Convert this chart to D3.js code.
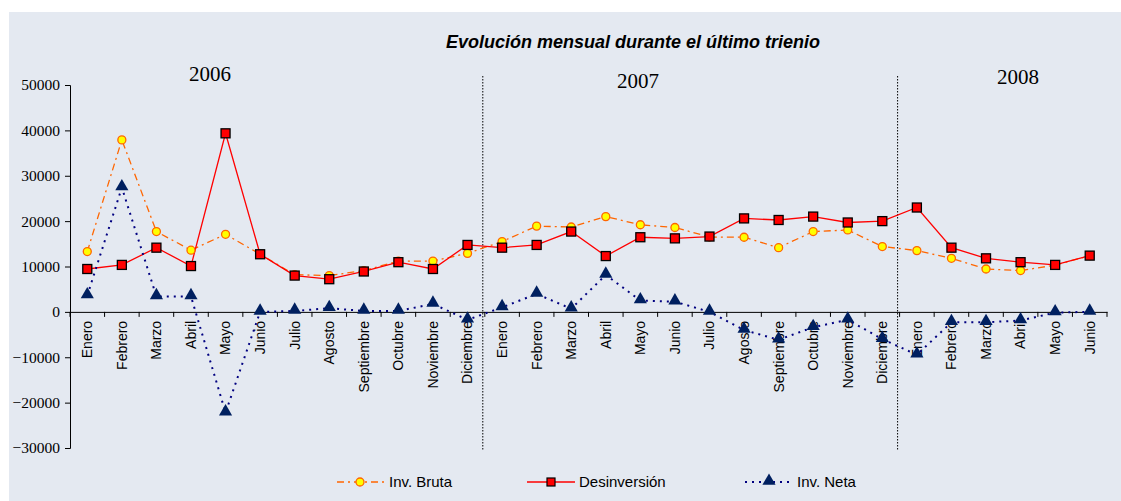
<!DOCTYPE html>
<meta charset="utf-8">
<body style="margin:0;background:#fff">
<svg id="chart"></svg>
</body>
<style>
.eje text { font-family: "Times New Roman", "Liberation Serif", serif; font-size: 15.5px; fill: #000; }
.meses text { font-family: Arial, "Liberation Sans", sans-serif; font-size: 14px; fill: #000; }
.anio { font-family: "Times New Roman", "Liberation Serif", serif; font-size: 21px; }
.titulo { font-family: Arial, "Liberation Sans", sans-serif; font-size: 18px; font-style: italic; font-weight: bold; }
.leyenda text { font-family: Arial, "Liberation Sans", sans-serif; font-size: 15px; }
</style>
<script src="https://d3js.org/d3.v7.min.js"></script>
<script>

// datos
var meses = ["Enero","Febrero","Marzo","Abril","Mayo","Junio","Julio","Agosto","Septiembre","Octubre","Noviembre","Diciembre",
             "Enero","Febrero","Marzo","Abril","Mayo","Junio","Julio","Agosto","Septiembre","Octubre","Noviembre","Diciembre",
             "Enero","Febrero","Marzo","Abril","Mayo","Junio"];
var anios = ["2006", "2007", "2008"];
var invBruta = [13300, 37900, 17700, 13600, 17100, 12700, 8200, 8000, 9100, 11200, 11200, 12900,
                15500, 18900, 18700, 21000, 19200, 18600, 16500, 16450, 14150, 17700, 18050, 14400,
                13500, 11800, 9450, 9100, 10300, 12400];
var desinversion = [9450, 10350, 14150, 10100, 39350, 12700, 8000, 7200, 8900, 10950, 9450, 14750,
                    14150, 14750, 17700, 12300, 16450, 16200, 16600, 20600, 20250, 21000, 19700, 20000,
                    23000, 14150, 11800, 10950, 10350, 12400];
var invNeta = [3600, 27400, 3400, 3400, -22200, 0, 200, 800, 200, 200, 1750, -1750,
               1000, 3950, 700, 8150, 2500, 2250, 0, -4000, -6150, -3400, -1750, -6000,
               -9450, -2300, -2300, -1900, -150, 0];
var yTicks = [50000, 40000, 30000, 20000, 10000, 0, -10000, -20000, -30000];

var width = 1121, height = 501;
var svg = d3.select("#chart").attr("width", width).attr("height", height);

svg.append("rect").attr("x", 9).attr("y", 12).attr("width", width - 9).attr("height", height - 12)
    .attr("fill", "#e4e9f1");

var x = d3.scaleBand().domain(d3.range(meses.length)).range([70, 1107]);
var y = d3.scaleLinear().domain([-30000, 50000]).range([448, 85]);
var cx = i => x(i) + x.bandwidth() / 2;

// eje Y
var ejeY = svg.append("g").attr("class", "eje").attr("transform", "translate(70,0)")
    .call(d3.axisLeft(y).tickValues(yTicks).tickSize(5).tickPadding(5).tickFormat(d3.format("d")));
ejeY.select(".domain").attr("stroke", "#000");

// eje X en cero
var ejeX = svg.append("g").attr("class", "meses").attr("transform", "translate(0," + y(0) + ")")
    .call(d3.axisBottom(x).tickSizeOuter(0).tickSize(0).tickFormat(i => meses[i]));
ejeX.select(".domain").attr("stroke", "#000");
ejeX.selectAll("text")
    .attr("transform", "rotate(-90)")
    .attr("text-anchor", "end")
    .attr("x", -9).attr("y", 0).attr("dy", "0.35em");
// marcas entre categorías
ejeX.selectAll(".sep").data(d3.range(meses.length + 1)).enter().append("line")
    .attr("x1", i => 70 + i * x.step()).attr("x2", i => 70 + i * x.step())
    .attr("y1", 0).attr("y2", 5).attr("stroke", "#000");

// divisiones de año
svg.selectAll(".div").data([12, 24]).enter().append("line")
    .attr("x1", i => x(i) - 2).attr("x2", i => x(i) - 2)
    .attr("y1", 76).attr("y2", 450)
    .attr("stroke", "#000").attr("stroke-width", 1).attr("stroke-dasharray", "1.5,1.5");

svg.selectAll(".anio").data(anios).enter().append("text").attr("class", "anio")
    .attr("x", (d, i) => [210, 638, 1018][i]).attr("y", (d, i) => [81, 88, 84][i])
    .attr("text-anchor", "middle").text(d => d);

svg.append("text").attr("class", "titulo").attr("x", 633).attr("y", 48)
    .attr("text-anchor", "middle").text("Evolución mensual durante el último trienio");

var linea = d3.line().x((d, i) => cx(i)).y(d => y(d));

// Inv. Bruta
svg.append("path").datum(invBruta).attr("d", linea).attr("fill", "none")
    .attr("stroke", "#ff6600").attr("stroke-width", 1.3).attr("stroke-dasharray", "7,4,2,4");
// Desinversión
svg.append("path").datum(desinversion).attr("d", linea).attr("fill", "none")
    .attr("stroke", "#ff0000").attr("stroke-width", 1.3);
// Inv. Neta
svg.append("path").datum(invNeta).attr("d", linea).attr("fill", "none")
    .attr("stroke", "#000080").attr("stroke-width", 2).attr("stroke-dasharray", "2,5");

var tri = d3.symbol().type(d3.symbolTriangle).size(75);

svg.append("g").selectAll("circle").data(invBruta).enter().append("circle")
    .attr("cx", (d, i) => cx(i)).attr("cy", d => y(d)).attr("r", 4)
    .attr("fill", "#ffff00").attr("stroke", "#ff6600").attr("stroke-width", 1.3);
svg.append("g").selectAll("rect").data(desinversion).enter().append("rect")
    .attr("x", (d, i) => cx(i) - 4.5).attr("y", d => y(d) - 4.5).attr("width", 9).attr("height", 9)
    .attr("fill", "#ff0000").attr("stroke", "#000").attr("stroke-width", 1.3);
svg.append("g").selectAll("path").data(invNeta).enter().append("path")
    .attr("d", tri).attr("transform", (d, i) => "translate(" + cx(i) + "," + (y(d) - 1) + ")")
    .attr("fill", "#002060");

// leyenda
var ley = svg.append("g").attr("class", "leyenda");
var ly = 482;
ley.append("line").attr("x1", 337).attr("x2", 385).attr("y1", ly).attr("y2", ly)
    .attr("stroke", "#ff6600").attr("stroke-width", 1.3).attr("stroke-dasharray", "7,4,2,4");
ley.append("circle").attr("cx", 360).attr("cy", ly).attr("r", 4)
    .attr("fill", "#ffff00").attr("stroke", "#ff6600").attr("stroke-width", 1.3);
ley.append("text").attr("x", 389).attr("y", ly + 5).text("Inv. Bruta");
ley.append("line").attr("x1", 527).attr("x2", 575).attr("y1", ly).attr("y2", ly)
    .attr("stroke", "#ff0000").attr("stroke-width", 1.3);
ley.append("rect").attr("x", 547).attr("y", ly - 4).attr("width", 8).attr("height", 8)
    .attr("fill", "#ff0000").attr("stroke", "#000").attr("stroke-width", 1.2);
ley.append("text").attr("x", 579).attr("y", ly + 5).text("Desinversión");
ley.append("line").attr("x1", 745).attr("x2", 793).attr("y1", ly).attr("y2", ly)
    .attr("stroke", "#000080").attr("stroke-width", 2).attr("stroke-dasharray", "2,5");
ley.append("path").attr("d", tri).attr("transform", "translate(769," + (ly - 1) + ")").attr("fill", "#002060");
ley.append("text").attr("x", 797).attr("y", ly + 5).text("Inv. Neta");

</script>
